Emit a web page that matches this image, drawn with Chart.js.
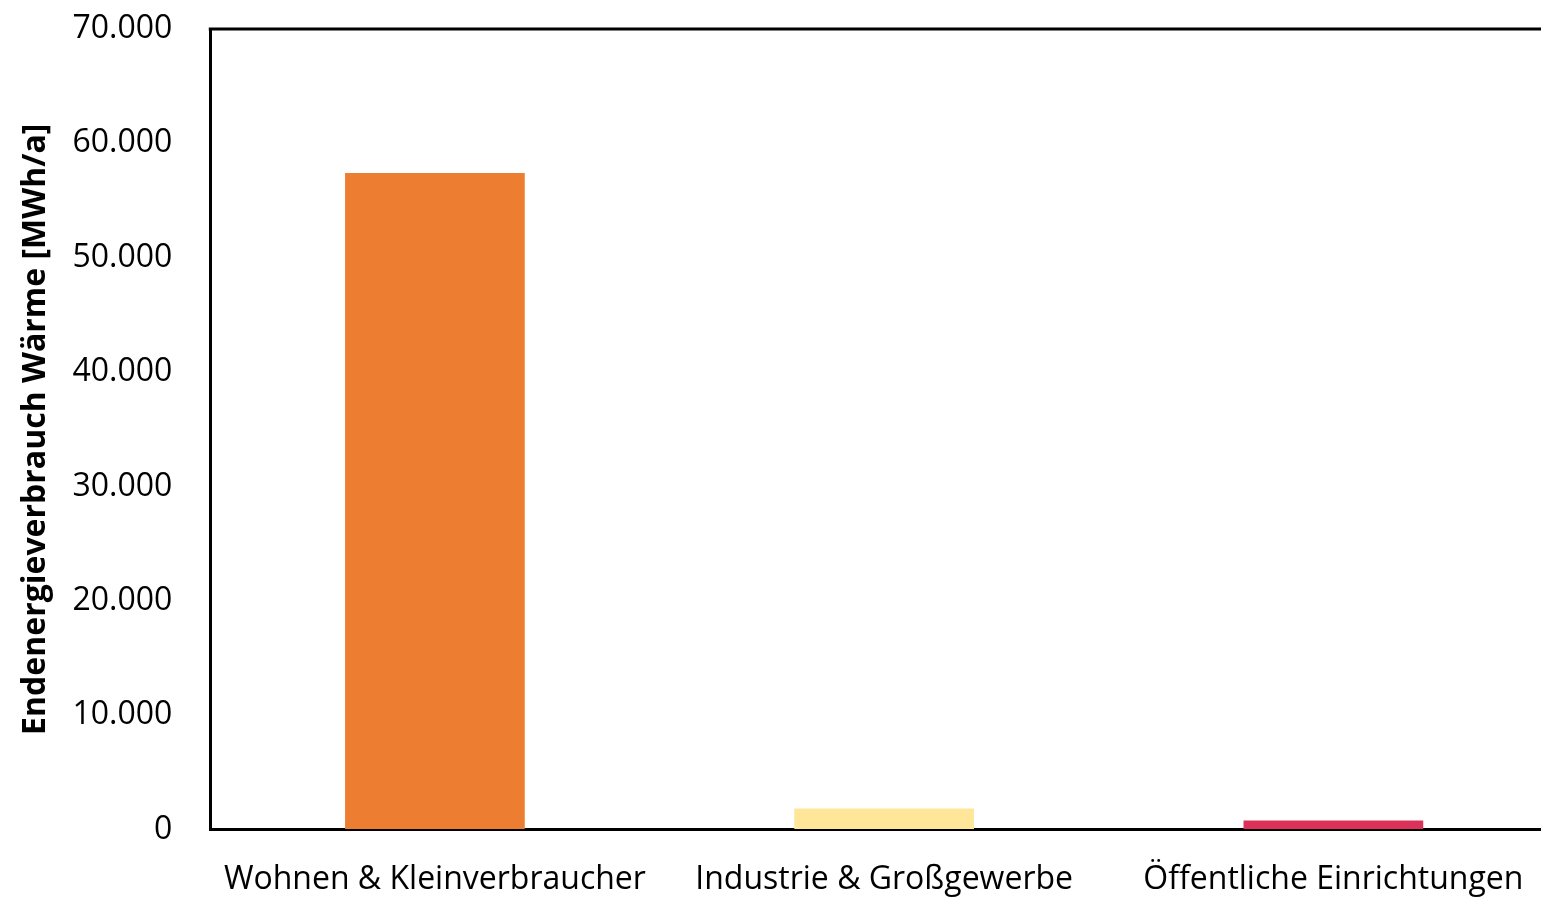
<!DOCTYPE html>
<html>
<head>
<meta charset="utf-8">
<script src="https://cdn.jsdelivr.net/npm/chart.js@4"></script>
<style>
html, body { margin: 0; padding: 0; background: #fff; overflow: hidden; }
#wrap { width: 1558px; height: 900px; }
</style>
</head>
<body>
<div id="wrap"><canvas id="barChartWaerme"></canvas></div>
<script>
var categories = ['Wohnen & Kleinverbraucher', 'Industrie & Großgewerbe', 'Öffentliche Einrichtungen'];
var values = [57400, 1840, 800];
var barColors = ['#ED7D31', '#FFE699', '#DC325A'];

// top frame line of the plot area
var topBorder = {
    id: 'topBorder',
    afterDraw: function (chart) {
        var a = chart.chartArea, c = chart.ctx;
        c.save();
        c.strokeStyle = '#000';
        c.lineWidth = 3;
        c.beginPath();
        c.moveTo(a.left - 1.5, a.top);
        c.lineTo(a.right, a.top);
        c.stroke();
        c.restore();
    }
};

var ctx = document.getElementById('barChartWaerme').getContext('2d');
var myChart = new Chart(ctx, {
    type: 'bar',
    data: {
        labels: categories,
        datasets: [{
            data: values,
            backgroundColor: barColors,
            barPercentage: 0.4,
            categoryPercentage: 1
        }]
    },
    options: {
        responsive: true,
        maintainAspectRatio: false,
        animation: false,
        layout: { padding: { top: 29, left: 0, right: 0, bottom: -2 } },
        plugins: {
            legend: { display: false },
            tooltip: { enabled: false }
        },
        scales: {
            x: {
                grid: { display: true, drawOnChartArea: false, color: 'rgba(0,0,0,0)', tickLength: 28 },
                border: { color: '#000', width: 3 },
                ticks: {
                    color: '#000',
                    padding: 3,
                    maxRotation: 0,
                    autoSkip: false,
                    font: { family: 'Open Sans', size: 32 }
                }
            },
            y: {
                min: 0,
                max: 70000,
                grid: { display: true, drawOnChartArea: false, color: 'rgba(0,0,0,0)', tickLength: 35 },
                border: { color: '#000', width: 3 },
                ticks: {
                    stepSize: 10000,
                    color: '#000',
                    padding: 3,
                    font: { family: 'Open Sans', size: 32 },
                    callback: function (v) { return v.toLocaleString('de-DE'); }
                },
                title: {
                    display: true,
                    text: 'Endenergieverbrauch Wärme [MWh/a]',
                    color: '#000',
                    padding: { top: 17, bottom: 14 },
                    font: { family: 'Open Sans', size: 32, weight: 'bold' }
                }
            }
        }
    },
    plugins: [topBorder]
});
</script>
</body>
</html>
